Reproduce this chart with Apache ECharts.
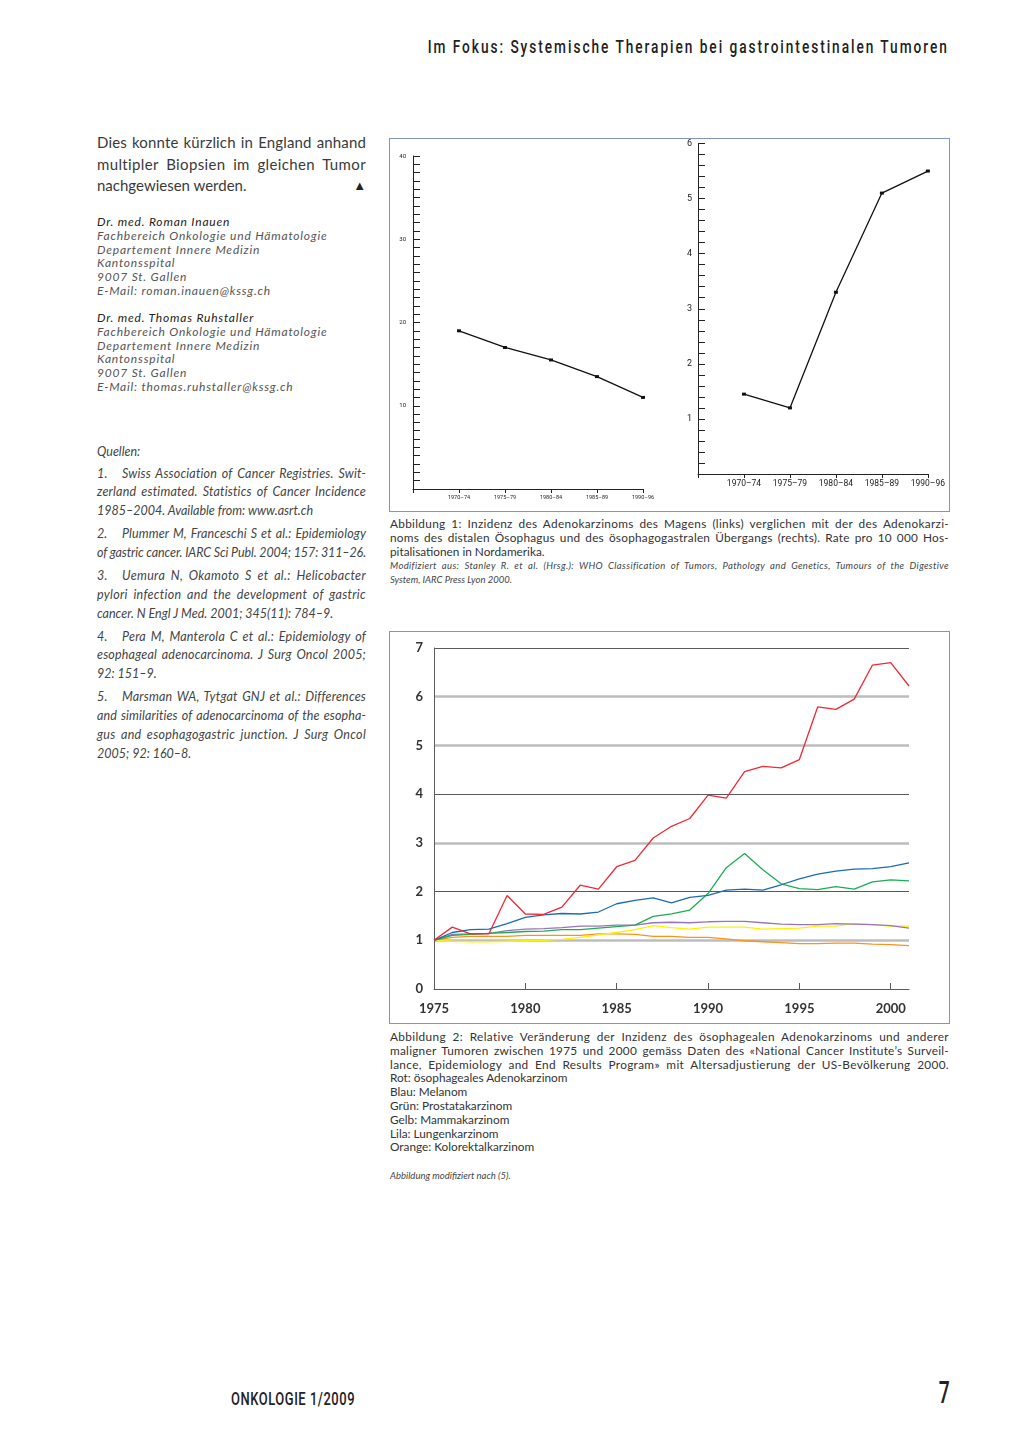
<!DOCTYPE html>
<html><head><meta charset="utf-8">
<script src="https://cdn.jsdelivr.net/npm/echarts@6/dist/echarts.min.js"></script>
<style>
html,body{margin:0;padding:0;background:#fff;}
body{width:1024px;height:1448px;position:relative;overflow:hidden;font-family:Lato,"Noto Sans",sans-serif;color:#333;}
.abs{position:absolute;}
.jl,.ll{white-space:nowrap;}
.num{display:inline-block;width:25px;}
#header{left:0px;top:35px;width:949px;text-align:right;font-family:Roboto,"Noto Sans",sans-serif;font-weight:500;font-size:19px;color:#222;white-space:nowrap;}
#hdr{display:inline-block;transform-origin:right center;}
#para{left:97px;top:132px;width:269px;font-size:15px;line-height:21.5px;color:#3a3a3a;}
.auth{left:97px;width:269px;font-size:12px;line-height:13.8px;font-style:italic;color:#555;letter-spacing:0.8px;}
.auth .nm{color:#222;}
#quellen{left:97px;top:441.5px;font-size:12.5px;line-height:19px;font-style:italic;color:#444;}
#refs{left:97px;top:464.6px;width:269px;font-size:12.5px;line-height:18.8px;font-style:italic;color:#444;}
#refs .p{margin-bottom:4.2px;}
.cap{left:390px;width:559px;font-size:11.8px;line-height:13.8px;color:#333;}
.capi{left:390px;width:559px;font-size:9.5px;line-height:14px;font-style:italic;color:#444;}
.box{position:absolute;border:1.5px solid #8294bf;box-sizing:border-box;}
#footer{left:231px;top:1387px;font-family:Roboto,"Noto Sans",sans-serif;font-weight:500;font-size:19px;color:#222;white-space:nowrap;}
#ftr{display:inline-block;transform-origin:left center;}
#pageno{left:900px;top:1374px;width:50px;text-align:right;font-family:Roboto,"Noto Sans",sans-serif;font-weight:500;font-size:31px;color:#222;}
#pn{display:inline-block;transform:scaleX(0.62);transform-origin:right center;}
</style>
</head><body>

<div id="header" class="abs"><span id="hdr">Im Fokus: Systemische Therapien bei gastrointestinalen Tumoren</span></div>

<div id="para" class="abs">
<div class="jl"><span>Dies konnte kürzlich in England anhand</span></div>
<div class="jl"><span>multipler Biopsien im gleichen Tumor</span></div>
<div class="ll"><span>nachgewiesen werden.</span><span style="float:right;font-size:13px;color:#222;">▲</span></div>
</div>

<div class="abs auth" style="top:215px;">
<div class="nm">Dr. med. Roman Inauen</div>
<div>Fachbereich Onkologie und Hämatologie</div>
<div>Departement Innere Medizin</div>
<div>Kantonsspital</div>
<div>9007 St. Gallen</div>
<div>E-Mail: roman.inauen@kssg.ch</div>
</div>
<div class="abs auth" style="top:311px;">
<div class="nm">Dr. med. Thomas Ruhstaller</div>
<div>Fachbereich Onkologie und Hämatologie</div>
<div>Departement Innere Medizin</div>
<div>Kantonsspital</div>
<div>9007 St. Gallen</div>
<div>E-Mail: thomas.ruhstaller@kssg.ch</div>
</div>

<div id="quellen" class="abs">Quellen:</div>
<div id="refs" class="abs">
<div class="p">
<div class="jl"><span><i class="num">1.</i>Swiss Association of Cancer Registries. Swit-</span></div>
<div class="jl"><span>zerland estimated. Statistics of Cancer Incidence</span></div>
<div class="ll"><span>1985–2004. Available from: www.asrt.ch</span></div>
</div>
<div class="p">
<div class="jl"><span><i class="num">2.</i>Plummer M, Franceschi S et al.: Epidemiology</span></div>
<div class="jl"><span>of gastric cancer. IARC Sci Publ. 2004; 157: 311–26.</span></div>
</div>
<div class="p">
<div class="jl"><span><i class="num">3.</i>Uemura N, Okamoto S et al.: Helicobacter</span></div>
<div class="jl"><span>pylori infection and the development of gastric</span></div>
<div class="ll"><span>cancer. N Engl J Med. 2001; 345(11): 784–9.</span></div>
</div>
<div class="p">
<div class="jl"><span><i class="num">4.</i>Pera M, Manterola C et al.: Epidemiology of</span></div>
<div class="jl"><span>esophageal adenocarcinoma. J Surg Oncol 2005;</span></div>
<div class="ll"><span>92: 151–9.</span></div>
</div>
<div class="p">
<div class="jl"><span><i class="num">5.</i>Marsman WA, Tytgat GNJ et al.: Differences</span></div>
<div class="jl"><span>and similarities of adenocarcinoma of the esopha-</span></div>
<div class="jl"><span>gus and esophagogastric junction. J Surg Oncol</span></div>
<div class="ll"><span>2005; 92: 160–8.</span></div>
</div>
</div>

<div class="box" style="left:389px;top:138px;width:561px;height:374px;"></div>
<div id="fig1" class="abs" style="left:390px;top:139px;width:558px;height:371px;"></div>

<div class="abs cap" style="top:517px;">
<div class="jl"><span>Abbildung 1: Inzidenz des Adenokarzinoms des Magens (links) verglichen mit der des Adenokarzi-</span></div>
<div class="jl"><span>noms des distalen Ösophagus und des ösophagogastralen Übergangs (rechts). Rate pro 10 000 Hos-</span></div>
<div class="ll"><span>pitalisationen in Nordamerika.</span></div>
</div>
<div class="abs capi" style="top:559px;">
<div class="jl"><span>Modifiziert aus: Stanley R. et al. (Hrsg.): WHO Classification of Tumors, Pathology and Genetics, Tumours of the Digestive</span></div>
<div class="ll"><span>System, IARC Press Lyon 2000.</span></div>
</div>

<div class="box" style="left:389px;top:631px;width:561px;height:393px;"></div>
<div id="fig2" class="abs" style="left:390px;top:632px;width:558px;height:390px;"></div>

<div class="abs cap" style="top:1030px;">
<div class="jl"><span>Abbildung 2: Relative Veränderung der Inzidenz des ösophagealen Adenokarzinoms und anderer</span></div>
<div class="jl"><span>maligner Tumoren zwischen 1975 und 2000 gemäss Daten des «National Cancer Institute’s Surveil-</span></div>
<div class="jl"><span>lance, Epidemiology and End Results Program» mit Altersadjustierung der US-Bevölkerung 2000.</span></div>
<div class="ll"><span>Rot: ösophageales Adenokarzinom</span></div>
<div class="ll"><span>Blau: Melanom</span></div>
<div class="ll"><span>Grün: Prostatakarzinom</span></div>
<div class="ll"><span>Gelb: Mammakarzinom</span></div>
<div class="ll"><span>Lila: Lungenkarzinom</span></div>
<div class="ll"><span>Orange: Kolorektalkarzinom</span></div>
</div>
<div class="abs capi" style="top:1169px;">Abbildung modifiziert nach (5).</div>

<div id="footer" class="abs"><span id="ftr">ONKOLOGIE 1/2009</span></div>
<div id="pageno" class="abs"><span id="pn">7</span></div>

<script>
// ---- Figure 1 data ----
const periods = ['1970–74', '1975–79', '1980–84', '1985–89', '1990–96'];
const stomachRate = [19, 17, 15.5, 13.5, 11];
const esophagusRate = [1.45, 1.2, 3.3, 5.1, 5.5];
const fig1LeftTicks = [0, 40, 10];
const fig1RightTicks = [0, 6, 1];

// ---- Figure 2 data ----
const years = [1975, 1976, 1977, 1978, 1979, 1980, 1981, 1982, 1983, 1984, 1985, 1986, 1987, 1988, 1989, 1990, 1991, 1992, 1993, 1994, 1995, 1996, 1997, 1998, 1999, 2000, 2001];
const yearLabels = [1975, 1980, 1985, 1990, 1995, 2000];
const rotEsophAdeno = [1.0, 1.27, 1.13, 1.13, 1.92, 1.54, 1.53, 1.68, 2.13, 2.05, 2.51, 2.64, 3.10, 3.34, 3.50, 3.98, 3.92, 4.46, 4.57, 4.54, 4.71, 5.79, 5.74, 5.95, 6.65, 6.70, 6.22];
const blauMelanom = [1.0, 1.16, 1.22, 1.23, 1.34, 1.47, 1.52, 1.55, 1.54, 1.58, 1.75, 1.82, 1.87, 1.77, 1.88, 1.92, 2.03, 2.05, 2.03, 2.14, 2.26, 2.36, 2.42, 2.46, 2.47, 2.51, 2.59];
const gruenProstata = [1.0, 1.10, 1.12, 1.14, 1.16, 1.18, 1.19, 1.22, 1.22, 1.25, 1.28, 1.31, 1.49, 1.54, 1.62, 1.96, 2.49, 2.78, 2.45, 2.16, 2.06, 2.04, 2.10, 2.05, 2.20, 2.24, 2.22];
const lilaLunge = [1.0, 1.12, 1.13, 1.14, 1.20, 1.23, 1.24, 1.26, 1.29, 1.29, 1.31, 1.31, 1.36, 1.37, 1.36, 1.38, 1.39, 1.39, 1.36, 1.33, 1.32, 1.32, 1.34, 1.33, 1.32, 1.30, 1.25];
const gelbMamma = [1.0, 0.98, 0.97, 0.97, 0.98, 0.99, 1.0, 1.02, 1.06, 1.11, 1.16, 1.22, 1.30, 1.26, 1.23, 1.27, 1.27, 1.27, 1.23, 1.24, 1.25, 1.29, 1.29, 1.34, 1.32, 1.29, 1.29];
const orangeKolorektal = [1.0, 1.06, 1.08, 1.08, 1.08, 1.10, 1.10, 1.10, 1.10, 1.13, 1.13, 1.12, 1.08, 1.08, 1.06, 1.06, 1.03, 0.99, 0.97, 0.95, 0.93, 0.93, 0.94, 0.94, 0.92, 0.91, 0.89];

// ---- text justification helpers ----
function justify() {
  document.querySelectorAll('.jl').forEach(function (div) {
    const span = div.firstElementChild;
    span.style.wordSpacing = '0px'; span.style.letterSpacing = '0px';
    const target = div.clientWidth;
    const text = span.textContent;
    const n = text.length;
    const spaces = (text.match(/ /g) || []).length;
    let w = span.getBoundingClientRect().width;
    let diff = target - w;
    if (diff > 0) {
      const ls = Math.min(diff * 0.5 / n, 0.45);
      span.style.letterSpacing = ls + 'px';
      w = span.getBoundingClientRect().width;
      diff = target - w;
      if (spaces > 0) span.style.wordSpacing = (diff / spaces) + 'px';
    } else if (diff < 0) {
      span.style.letterSpacing = (diff / n) + 'px';
    }
  });
  const hdr = document.getElementById('hdr');
  const sc = 0.72;
  hdr.style.transform = 'scaleX(' + sc + ')';
  const hn = hdr.textContent.length;
  hdr.style.letterSpacing = ((521 / sc - hdr.offsetWidth) / hn) + 'px';
  const ftr = document.getElementById('ftr');
  ftr.style.letterSpacing = '0.8px';
  ftr.style.transform = 'scaleX(' + (124 / ftr.offsetWidth) + ')';
}
justify();

const narrow = 'Roboto, "Noto Sans", sans-serif';
const catData = [''].concat(periods);

function fig1Axes(gi, fs, margin) {
  return {
    gridIndex: gi, type: 'category', boundaryGap: false, data: catData,
    axisLine: { lineStyle: { color: '#222', width: 1 } },
    axisTick: { show: true, length: 4, interval: 0, lineStyle: { color: '#222' } },
    axisLabel: { interval: 0, fontSize: fs, color: '#222', margin: margin, fontFamily: narrow }
  };
}
function fig1Y(gi, t, minorSplit, fs, margin) {
  return {
    gridIndex: gi, type: 'value', min: t[0], max: t[1], interval: t[2],
    axisLine: { show: true, lineStyle: { color: '#222', width: 1 } },
    axisTick: { show: true, inside: true, length: 7, lineStyle: { color: '#222' } },
    minorTick: { show: true, splitNumber: minorSplit, length: 7, lineStyle: { color: '#222' } },
    splitLine: { show: false },
    axisLabel: { showMinLabel: false, fontSize: fs, color: '#222', margin: margin, fontFamily: narrow }
  };
}
const fig1 = echarts.init(document.getElementById('fig1'), null, { renderer: 'canvas' });
fig1.setOption({
  animation: false,
  grid: [
    { left: 23, top: 17, width: 230, height: 333 },
    { left: 308, top: 4, width: 230, height: 331 }
  ],
  xAxis: [fig1Axes(0, 5.5, 6), fig1Axes(1, 8.5, 5)],
  yAxis: [fig1Y(0, fig1LeftTicks, 10, 6, 7), fig1Y(1, fig1RightTicks, 5, 9, 6)],
  series: [
    { type: 'line', xAxisIndex: 0, yAxisIndex: 0, data: periods.map((p, i) => [p, stomachRate[i]]),
      symbol: 'rect', symbolSize: [4, 3], itemStyle: { color: '#111' }, lineStyle: { color: '#111', width: 1.3 } },
    { type: 'line', xAxisIndex: 1, yAxisIndex: 1, data: periods.map((p, i) => [p, esophagusRate[i]]),
      symbol: 'rect', symbolSize: [4, 3], itemStyle: { color: '#111' }, lineStyle: { color: '#111', width: 1.3 } }
  ]
});

const fig2 = echarts.init(document.getElementById('fig2'), null, { renderer: 'canvas' });
const labelFont = { fontSize: 13, fontWeight: 'bold', color: '#333', fontFamily: 'Lato, "Noto Sans", sans-serif' };
function mk(name, arr, color) {
  return { name: name, type: 'line', data: years.map((y, i) => [y, arr[i]]), showSymbol: false, symbol: 'none',
    lineStyle: { color: color, width: 1.3 }, itemStyle: { color: color } };
}
const darkCols = ['transparent', 'transparent', '#5a5a5a', 'transparent', '#5a5a5a', 'transparent', 'transparent', '#5a5a5a'];
const lightCols = ['transparent', '#bdbdbd', 'transparent', '#bdbdbd', 'transparent', '#bdbdbd', '#bdbdbd', 'transparent'];
fig2.setOption({
  animation: false,
  grid: { left: 44, top: 16, width: 475, height: 341 },
  xAxis: {
    type: 'value', min: 1975, max: 2001, interval: 5,
    axisLine: { lineStyle: { color: '#5a5a5a', width: 1 } },
    axisTick: { show: true, inside: true, length: 6, customValues: yearLabels.slice(1), lineStyle: { color: '#5a5a5a' } },
    splitLine: { show: false },
    axisLabel: Object.assign({ margin: 13, customValues: yearLabels, formatter: v => String(v) }, labelFont)
  },
  yAxis: [
    { type: 'value', min: 0, max: 7, interval: 1,
      axisLine: { show: true, lineStyle: { color: '#5a5a5a', width: 1 } },
      axisTick: { show: false },
      splitLine: { show: true, lineStyle: { color: darkCols, width: 1 } },
      axisLabel: Object.assign({ margin: 11 }, labelFont) },
    { type: 'value', min: 0, max: 7, interval: 1, position: 'left',
      axisLine: { show: false }, axisTick: { show: false }, axisLabel: { show: false },
      splitLine: { show: true, lineStyle: { color: lightCols, width: 2.5 } } }
  ],
  series: [
    mk('Orange: Kolorektalkarzinom', orangeKolorektal, '#f7941d'),
    mk('Gelb: Mammakarzinom', gelbMamma, '#fff200'),
    mk('Lila: Lungenkarzinom', lilaLunge, '#9b73b9'),
    mk('Grün: Prostatakarzinom', gruenProstata, '#1cad55'),
    mk('Blau: Melanom', blauMelanom, '#1b6cb3'),
    mk('Rot: ösophageales Adenokarzinom', rotEsophAdeno, '#ee2a35')
  ]
});
</script>
</body></html>
